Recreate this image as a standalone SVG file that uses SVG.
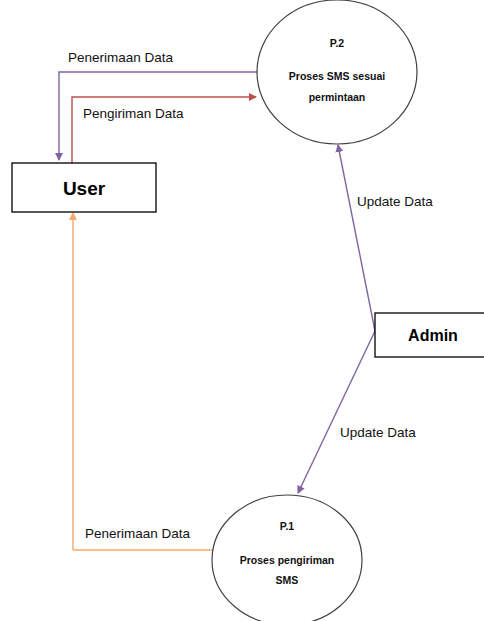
<svg xmlns="http://www.w3.org/2000/svg" width="484" height="621" viewBox="0 0 484 621">
<style>
.lbl{font-family:"Liberation Sans",Arial,sans-serif;font-size:13.5px;fill:#111}
.proc{font-family:"Liberation Sans",Arial,sans-serif;font-size:10.5px;font-weight:bold;fill:#111;text-anchor:middle}
.ent{font-family:"Liberation Sans",Arial,sans-serif;font-weight:bold;fill:#000;text-anchor:middle}
.box{fill:#fff;stroke:#000;stroke-width:1.3}
.circ{fill:#fff;stroke:#404040;stroke-width:1.2}
.c{fill:none;stroke-width:1.4}
</style>
<defs>
<marker id="ap" markerWidth="8" markerHeight="8" refX="7" refY="4" orient="auto" markerUnits="userSpaceOnUse"><path d="M0,0 L8,4 L0,8 Z" fill="#8064A2"/></marker>
<marker id="ar" markerWidth="8" markerHeight="8" refX="7" refY="4" orient="auto" markerUnits="userSpaceOnUse"><path d="M0,0 L8,4 L0,8 Z" fill="#C0504D"/></marker>
<marker id="ao" markerWidth="8" markerHeight="8" refX="7" refY="4" orient="auto" markerUnits="userSpaceOnUse"><path d="M0,0 L8,4 L0,8 Z" fill="#F9A86A"/></marker>
</defs>
<g id="connectors">
<path class="c" d="M257,72 H59 V160" stroke="#8064A2" marker-end="url(#ap)"/>
<path class="c" d="M72,163 V97 H256" stroke="#C0504D" marker-end="url(#ar)"/>
<path class="c" d="M73,550 H212 M73,550 V213" stroke="#F9A86A" marker-end="url(#ao)"/>
<path class="c" d="M375,331 L338,145" stroke="#8064A2" marker-end="url(#ap)"/>
<path class="c" d="M375,331 L298,493" stroke="#8064A2" marker-end="url(#ap)"/>
<text class="lbl" x="68" y="62">Penerimaan Data</text>
<text class="lbl" x="83" y="118">Pengiriman Data</text>
<text class="lbl" x="357" y="206">Update Data</text>
<text class="lbl" x="340" y="437">Update Data</text>
<text class="lbl" x="85" y="538">Penerimaan Data</text>
</g>
<g id="p2">
<ellipse class="circ" cx="337" cy="72" rx="80" ry="72"/>
<text class="proc" x="337" y="47">P.2</text>
<text class="proc" x="337" y="80">Proses SMS sesuai</text>
<text class="proc" x="337" y="101">permintaan</text>
</g>
<g id="user">
<rect class="box" x="12" y="163" width="144" height="49"/>
<text class="ent" x="84" y="195" font-size="19">User</text>
</g>
<g id="admin">
<rect class="box" x="375" y="313" width="112" height="44"/>
<text class="ent" x="433" y="341" font-size="16">Admin</text>
</g>
<g id="p1">
<ellipse class="circ" cx="287" cy="560" rx="75" ry="65"/>
<text class="proc" x="287" y="530">P.1</text>
<text class="proc" x="287" y="564">Proses pengiriman</text>
<text class="proc" x="287" y="584">SMS</text>
</g>
</svg>
